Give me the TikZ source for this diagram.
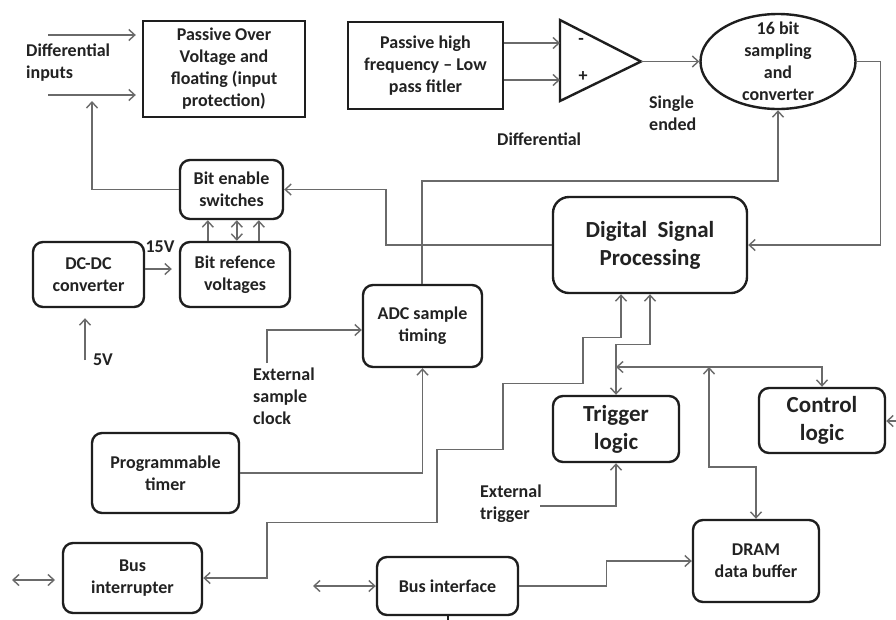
\documentclass[tikz,border=0pt]{standalone}
\usepackage{fontspec}
\setmainfont{Carlito}
\usetikzlibrary{arrows.meta,shapes.geometric}
\definecolor{boxc}{HTML}{1E1E1E}
\definecolor{linec}{HTML}{6A6A6A}
\definecolor{txtc}{HTML}{222222}
\newcommand\boxfnt{\fontsize{18}{22}\selectfont\bfseries}
\newcommand\bigfnt{\fontsize{23}{28}\selectfont\bfseries}
\begin{document}
\begin{tikzpicture}[x=1pt,y=-1pt,
  blk/.style={draw=boxc, line width=2.4pt, inner sep=0pt, align=center,
              font=\boxfnt, text=txtc},
  sbox/.style={blk},
  rbox/.style={blk, rounded corners=10pt},
  lbl/.style={inner sep=0pt, font=\boxfnt, text=txtc},
  conn/.style={draw=linec, line width=1.4pt},
  tip/.tip={Straight Barb[length=6pt,width=11pt]},
  arr/.style={conn, -tip},
  darr/.style={conn, tip-tip}]
\useasboundingbox[fill=white] (0,0) rectangle (896,619);

% blocks
\node[sbox, minimum width=162, minimum height=96] (pov) at (224,69)
  {Passive Over\\Voltage and\\floating (input\\protection)};
\node[sbox, minimum width=155, minimum height=87] (phf) at (425.5,65.5)
  {Passive high\\frequency -- Low\\pass fitler};
\node[draw=boxc, line width=2.4pt, ellipse, inner sep=0pt,
      minimum width=155, minimum height=95] (conv) at (778,61.5) {};
\node[lbl, align=center] (convtxt) at (conv.center) {16 bit\\sampling\\and\\converter};
\node[rbox, minimum width=103, minimum height=59] (bes) at (231.5,189.5)
  {Bit enable\\switches};
\node[rbox, minimum width=110, minimum height=65] (brv) at (235,274.5)
  {Bit refence\\voltages};
\node[rbox, minimum width=111, minimum height=65] (dcdc) at (88.5,274.5)
  {DC-DC\\converter};
\node[rbox, rounded corners=16pt, font=\bigfnt, minimum width=194, minimum height=96]
  (dsp) at (650,245) {Digital\ \ Signal\\Processing};
\node[rbox, minimum width=119, minimum height=82] (adct) at (422.5,326)
  {ADC sample\\timing};
\node[rbox, minimum width=147, minimum height=80] (prog) at (165.5,473)
  {Programmable\\timer};
\node[rbox, font=\bigfnt, minimum width=126, minimum height=66] (trig) at (616,429)
  {Trigger\\logic};
\node[rbox, font=\bigfnt, minimum width=126, minimum height=65] (ctrl) at (822,420.5)
  {Control\\logic};
\node[rbox, minimum width=126, minimum height=82] (dram) at (756,561)
  {DRAM\\data buffer};
\node[rbox, minimum width=139, minimum height=70] (busint) at (132.5,578)
  {Bus\\interrupter};
\node[rbox, minimum width=141, minimum height=58] (busif) at (447.5,586)
  {Bus interface};

% differential amplifier
\coordinate (ampt) at (560,20);
\coordinate (ampb) at (560,101);
\coordinate (ampo) at (641,61.5);
\coordinate (ampm) at (560,43);
\coordinate (ampp) at (560,80);
\draw[draw=boxc, line width=2.4pt, line join=miter] (ampt) -- (ampo) -- (ampb) -- cycle;
\node[lbl] (minus) at (581,41) {-};
\node[lbl] (plus) at (583,77) {+};

% labels
\node[lbl, align=left, anchor=west] (diffin) at (26,62.5) {Differential\\inputs};
\node[lbl, anchor=west] (difflbl) at (497,139) {Differential};
\node[lbl, align=left, anchor=west] (selbl) at (649,113.5) {Single\\ended};
\node[lbl] (v15) at (160,247) {15V};
\node[lbl] (v5lbl) at (103,360) {5V};
\node[lbl, align=left, anchor=west] (eclklbl) at (253,396) {External\\sample\\clock};
\node[lbl, align=left, anchor=west] (etrglbl) at (480,504) {External\\trigger};

% free ends
\coordinate (din1) at (48,35);
\coordinate (din2) at (48,95);
\coordinate (fb) at (92,101);
\coordinate (v5) at (85,360);
\coordinate (eclk) at (267,363);
\coordinate (etrg) at (540,506);
\coordinate (busj) at (616,367);
\coordinate (busd) at (709,367);
\coordinate (cin) at (896,421);
\coordinate (bil) at (12,580);
\coordinate (bir) at (55,580);
\coordinate (bfl) at (313,586);

% input side
\draw[arr, shorten >=6pt] (din1) -- (din1 -| pov.west);
\draw[arr, shorten >=6pt] (din2) -- (din2 -| pov.west);
\draw[arr] (ampm -| phf.east) -- (ampm);
\draw[arr] (ampp -| phf.east) -- (ampp);
\draw[arr] (ampo) -- (conv.west);
\draw[arr] (conv.east) -- ++(23.5,0) |- (dsp.east);
\draw[arr] ([xshift=-0.5pt]adct.north) -- ++(0,-103) -| (conv.south);

% bit switching and supplies
\draw[arr] (dsp.west) -- ++(-166,0) |- (bes.east);
\draw[arr] (bes.west) -| (fb);
\draw[arr] ([xshift=29pt]brv.north west) -- ([xshift=29pt]bes.south west);
\draw[darr] ([xshift=58pt]brv.north west) -- ([xshift=58pt]bes.south west);
\draw[arr] ([xshift=80pt]brv.north west) -- ([xshift=80pt]bes.south west);
\draw[arr, shorten >=7pt] ([yshift=5.5pt]dcdc.east) -- ([yshift=5.5pt]brv.west);
\draw[arr, shorten >=10pt] (v5) -- (v5 |- dcdc.south);

% timing
\draw[arr] (eclk) |- ([yshift=-4pt]adct.west);
\draw[arr] (prog.east) -| (adct.south);

% processing buses
\draw[darr] ([xshift=-29pt]dsp.south) -- ++(0,43) -- ++(-38,0) -- ++(0,46)
  -- ++(-80,0) -- ++(0,66) -- ++(-66,0) -- ++(0,73) -- ++(-170,0) |- (busint.east);
\draw[darr] (dsp.south) -- ++(0,50) -| (trig.north);
\draw[darr] (busj) -| (ctrl.north);
\draw[darr] (busd) -- ++(0,100) -| (dram.north);
\draw[arr] (etrg) -| (trig.south);
\draw[arr] (cin) -- (cin -| ctrl.east);

% bus connections
\draw[darr] (bil) -- (bir);
\draw[darr] (bfl) -- (busif.west);
\draw[arr] (busif.east) -- ++(87,0) |- (dram.west);
\draw[draw=boxc, line width=2pt] (busif.south) -- ++(0,4);
\end{tikzpicture}
\end{document}
